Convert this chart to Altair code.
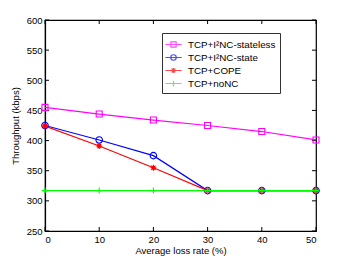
import altair as alt
import pandas as pd

loss = [0, 10, 20, 30, 40, 50]
stateless = [455, 444, 434, 425, 415, 401]
state = [425, 401, 375, 317, 317, 317]
cope = [424, 391, 355, 317, 317, 317]
nonc = [317, 317, 317, 317, 317, 317]

names = ["TCP+I²NC-stateless", "TCP+I²NC-state", "TCP+COPE", "TCP+noNC"]
colors = ["#ff00ff", "#0000ff", "#ff0000", "#00ff00"]
series = [stateless, state, cope, nonc]

xticks = [0, 10, 20, 30, 40, 50]
yticks = [250, 300, 350, 400, 450, 500, 550, 600]

W, H = 271, 211
FONT = "Liberation Sans"

rows = []
for n, s in zip(names, series):
    for xv, yv in zip(loss, s):
        rows.append({"loss": xv, "tp": yv, "series": n})
df = pd.DataFrame(rows)

marker_paths = [
    "M-1,-1H1V1H-1Z",
    "M1,0A1,1 0 1,1 -1,0A1,1 0 1,1 1,0",
    "M-1,0H1M0,-1V1M-0.7,-0.7L0.7,0.7M-0.7,0.7L0.7,-0.7M0.5,0A0.5,0.5 0 1,1 -0.5,0A0.5,0.5 0 1,1 0.5,0",
    "M-1,0H1M0,-1V1",
]
legend_paths = [
    "M-1.25,0H1.25M-0.4,-0.4H0.4V0.4H-0.4Z",
    "M-1.25,0H1.25M0.42,0A0.42,0.42 0 1,1 -0.42,0A0.42,0.42 0 1,1 0.42,0",
    "M-1.25,0H1.25M0,-0.38V0.38M-0.3,-0.3L0.3,0.3M-0.3,0.3L0.3,-0.3M0.22,0A0.22,0.22 0 1,1 -0.22,0A0.22,0.22 0 1,1 0.22,0",
    "M-1.25,0H1.25M0,-0.42V0.42",
]
sizes = [36, 42, 36, 36]

xscale = alt.Scale(domain=[0, 50], nice=False)
yscale = alt.Scale(domain=[250, 600], nice=False)

xaxis = alt.Axis(values=xticks, title="Average loss rate (%)", grid=False, tickSize=0,
                 labelPadding=3, titlePadding=2, domainColor="black")
yaxis = alt.Axis(values=yticks, title="Throughput (kbps)", grid=False, tickSize=0,
                 labelPadding=3, titlePadding=6, domainColor="black")

def X(f):
    return alt.X(f, scale=xscale, axis=xaxis)

def Y(f):
    return alt.Y(f, scale=yscale, axis=yaxis)

layers = []
for i, n in enumerate(names):
    base = alt.Chart(df).transform_filter(alt.datum.series == n)
    line = base.mark_line(color=colors[i], strokeWidth=1.2, clip=True).encode(
        x=X("loss:Q"), y=Y("tp:Q"))
    if i == 2:
        pm = base.mark_point(shape=marker_paths[i], filled=True, fill=colors[i],
                             stroke=colors[i], size=sizes[i], strokeWidth=1.1, opacity=1)
    else:
        pm = base.mark_point(shape=marker_paths[i], color=colors[i], size=sizes[i],
                             filled=False, strokeWidth=1.1, opacity=1)
    pts = pm.encode(x=X("loss:Q"), y=Y("tp:Q"))
    layers += [line, pts]

leg = alt.Legend(title=None, orient="none", legendX=117, legendY=13,
                 symbolStrokeWidth=1.2, symbolSize=169, labelFontSize=9.8,
                 labelFont=FONT, labelColor="black", labelOffset=7, rowPadding=0,
                 padding=4, strokeColor="#333333", fillColor="white",
                 cornerRadius=0, labelLimit=200)

legend_layer = alt.Chart(df).transform_filter(alt.datum.loss < 0).mark_point(
    filled=False, size=169).encode(
    x=X("loss:Q"),
    y=Y("tp:Q"),
    shape=alt.Shape("series:N", scale=alt.Scale(domain=names, range=legend_paths),
                    legend=leg),
    color=alt.Color("series:N", scale=alt.Scale(domain=names, range=colors),
                    legend=leg),
)

tx = pd.DataFrame({"v": xticks})
ty = pd.DataFrame({"v": yticks})
tick_layers = [
    alt.Chart(tx).mark_rule(color="black", strokeWidth=1).encode(
        x=X("v:Q"), y=alt.value(H), y2=alt.value(H - 4)),
    alt.Chart(tx).mark_rule(color="black", strokeWidth=1).encode(
        x=X("v:Q"), y=alt.value(0), y2=alt.value(4)),
    alt.Chart(ty).mark_rule(color="black", strokeWidth=1).encode(
        y=Y("v:Q"), x=alt.value(0), x2=alt.value(4)),
    alt.Chart(ty).mark_rule(color="black", strokeWidth=1).encode(
        y=Y("v:Q"), x=alt.value(W), x2=alt.value(W - 4)),
]

chart = alt.layer(*tick_layers, *layers, legend_layer).properties(
    width=W, height=H,
    autosize=alt.AutoSizeParams(type="none"),
    padding={"left": 37, "top": 12, "right": 25, "bottom": 25},
).configure_view(stroke="black", strokeWidth=1.2).configure_axis(
    labelFont=FONT, titleFont=FONT, labelFontSize=9.5, titleFontSize=9.5,
    titleFontWeight="normal", labelColor="black", titleColor="black",
    domainWidth=1.2,
)

chart.save("out.html", embed_options={"renderer": "svg", "actions": False})
